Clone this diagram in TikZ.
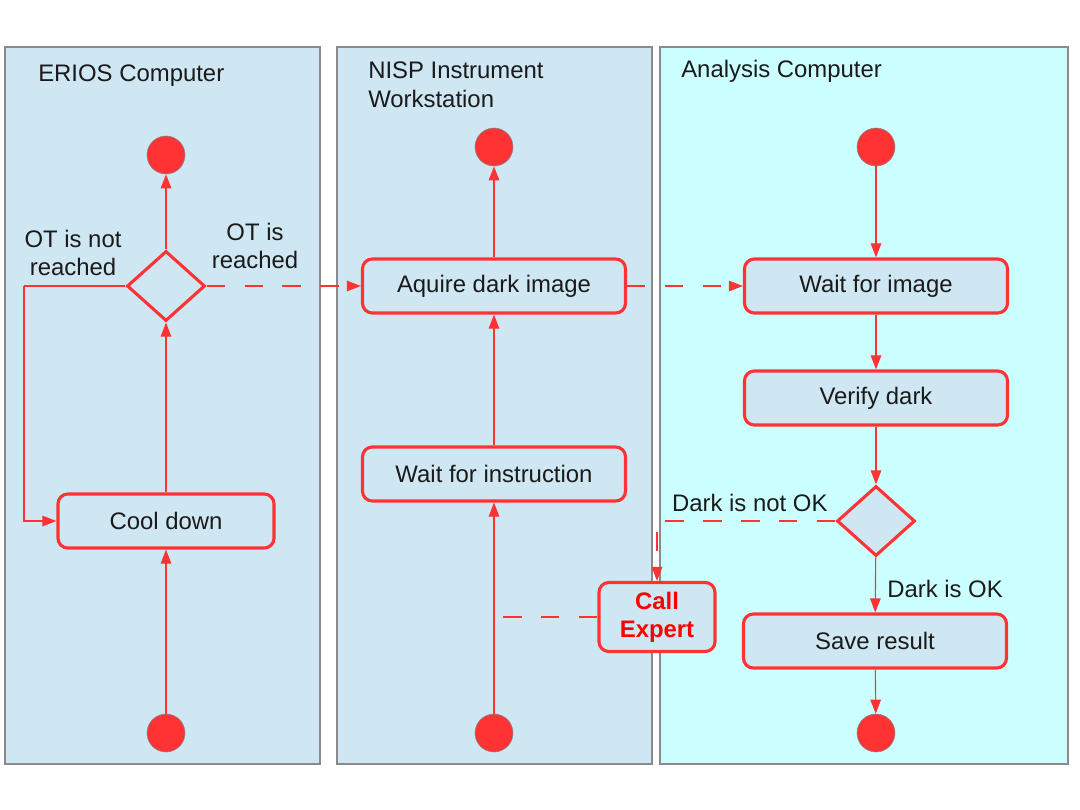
\documentclass[tikz,border=0pt]{standalone}
\usepackage{fontspec}
\setmainfont{Liberation Sans}
\usetikzlibrary{arrows.meta,shapes.geometric}
\definecolor{flowred}{HTML}{FF3333}
\definecolor{laneblue}{HTML}{CFE6F3}
\definecolor{lanecyan}{HTML}{CCFFFF}
\definecolor{lanegrey}{HTML}{8A8A8A}
\definecolor{inkgrey}{HTML}{1A1A1A}
\tikzset{
  lane/.style = {draw = lanegrey, line width = .8pt},
  lanetitle/.style = {anchor = base west, align = left, text = inkgrey, inner sep = 0pt},
  action/.style = {draw = flowred, line width = 2.2pt, fill = laneblue, rounded corners = 7pt,
    minimum width = 6.575cm, minimum height = 1.35cm, text = inkgrey},
  choice/.style = {draw = flowred, line width = 2.2pt, fill = laneblue, diamond,
    minimum width = 1.95cm, minimum height = 1.75cm, inner sep = 0pt},
  terminal/.style = {circle, fill = flowred, draw = lanegrey, line width = .4pt,
    minimum size = .95cm, inner sep = 0pt},
  flow/.style = {draw = flowred, line width = .8pt, -{Triangle[length = 10pt, width = 7.5pt]}},
  flowdash/.style = {flow, dash pattern = on 13pt off 14pt},
  guard/.style = {text = inkgrey, align = center, inner sep = 2pt}
}
\begin{document}
\begin{tikzpicture}[x = .025cm, y = -.025cm, font = \fontsize{17}{20}\selectfont]
  \useasboundingbox (0, 0) rectangle (1080, 810);
  % swim lanes
  \draw[lane, fill = laneblue] (5, 47) rectangle (320, 764);
  \draw[lane, fill = laneblue] (337, 47) rectangle (652, 764);
  \draw[lane, fill = lanecyan] (660, 47) rectangle (1068, 764);
  \node[lanetitle] (erios) at (38, 81) {ERIOS Computer};
  \node[lanetitle] (nisp) at (368, 107) {NISP Instrument\\Workstation};
  \node[lanetitle] (analysis) at (681, 77) {Analysis Computer};
  % ERIOS computer
  \node[terminal] (erstart) at (166, 733) {};
  \node[action, minimum width = 5.4cm] (cool) at (166, 521) {Cool down};
  \node[choice] (otcheck) at (166, 286) {};
  \node[terminal] (erend) at (166, 155) {};
  \coordinate (loopcorner) at (24, 286);
  \draw[flow] (erstart) -- (cool);
  \draw[flow] (cool) -- (otcheck);
  \draw[flow] (otcheck) -- (erend);
  \draw[flow, -] (otcheck.west) -- (loopcorner);
  \draw[flow] (loopcorner) |- (cool.west);
  \node[guard] (otnot) at (73, 253) {OT is not\\reached};
  \node[guard] (otyes) at (255, 246) {OT is\\reached};
  % NISP workstation
  \node[terminal] (nistart) at (494, 733) {};
  \node[action] (waitinstr) at (494, 474) {Wait for instruction};
  \node[action] (aquire) at (494, 286) {Aquire dark image};
  \node[terminal] (niend) at (494, 147) {};
  \draw[flow] (nistart) -- (waitinstr);
  \draw[flow] (waitinstr) -- (aquire);
  \draw[flow] (aquire) -- (niend);
  \draw[flowdash] (otcheck.east) -- (aquire.west);
  % analysis computer
  \node[terminal] (anstart) at (876, 147) {};
  \node[action] (waitimage) at (876, 286) {Wait for image};
  \node[action] (verify) at (876, 398) {Verify dark};
  \node[choice] (darkcheck) at (876, 521) {};
  \node[action] (save) at (875, 641) {Save result};
  \node[terminal] (anend) at (876, 733) {};
  \draw[flow] (anstart) -- (waitimage);
  \draw[flow] (waitimage) -- (verify);
  \draw[flow] (verify) -- (darkcheck);
  \draw[flow] (darkcheck) -- node[guard, right = 6pt, pos = .58] (darkok) {Dark is OK} (save);
  \draw[flow] (save) -- (anend);
  \draw[flowdash] (aquire.east) -- (waitimage.west);
  % expert call
  \node[action, minimum width = 2.9cm, minimum height = 1.725cm, align = center,
    text = red, font = \fontsize{17}{20}\selectfont\bfseries] (expert) at (657, 617) {Call\\Expert};
  \coordinate (joininstr) at (500, 617);
  \draw[flowdash] (darkcheck.west) -| node[guard, above = 4pt, pos = .24] (darknot) {Dark is not OK} (expert.north);
  \draw[flowdash, -] (expert.west) -- (joininstr);
\end{tikzpicture}
\end{document}
